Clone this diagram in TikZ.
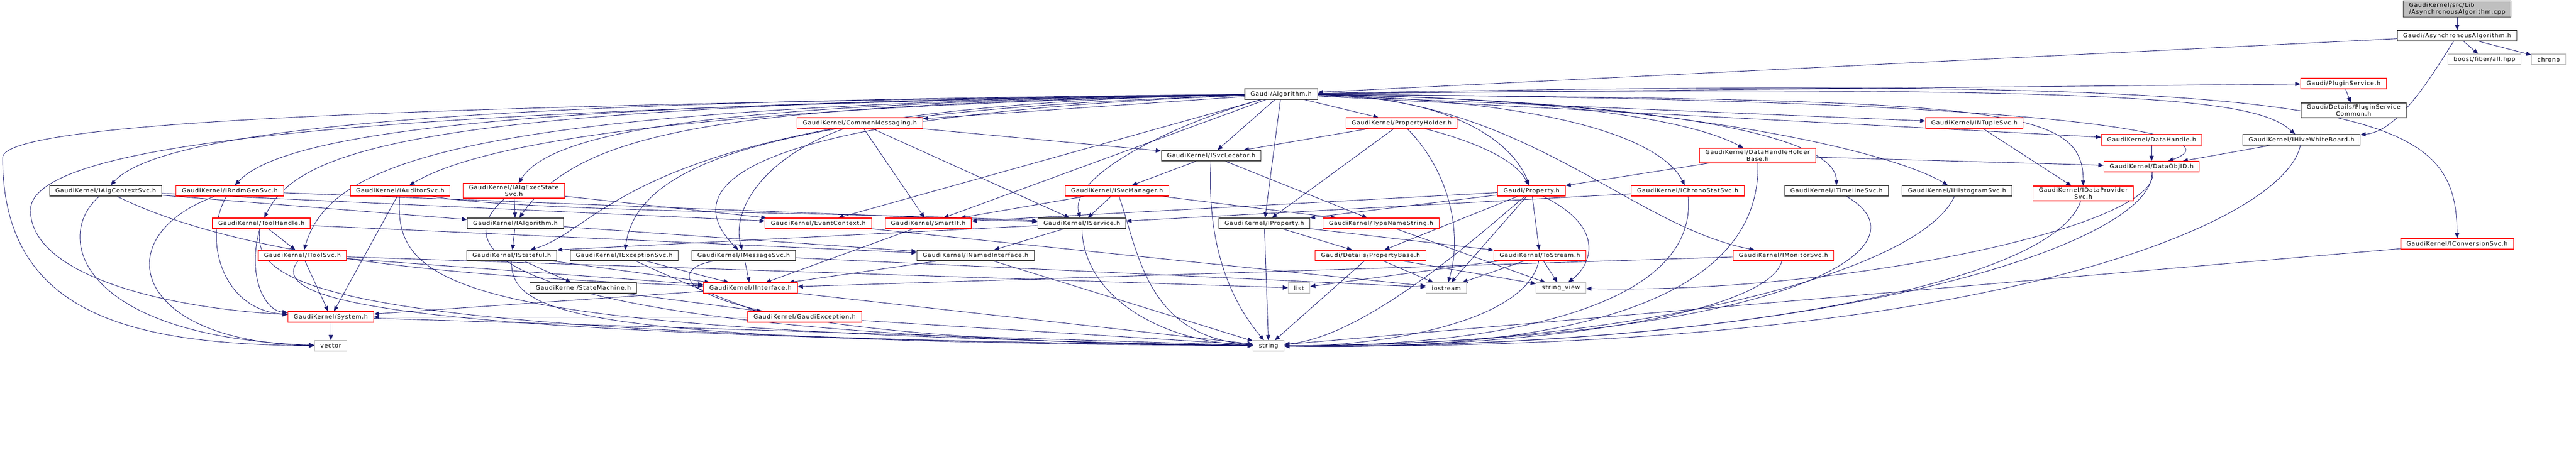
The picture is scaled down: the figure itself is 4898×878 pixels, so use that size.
\documentclass[tikz,border=0pt]{standalone}
\usepackage{fontspec}
\setmainfont{DejaVu Sans}[LetterSpace=9]
\usetikzlibrary{arrows.meta,backgrounds}
\definecolor{edgeblue}{HTML}{191970}
\definecolor{boxred}{HTML}{FF0000}
\definecolor{boxgray}{HTML}{BFBFBF}
\definecolor{boxdark}{HTML}{404040}
\tikzset{
  hdr/.style={draw, fill=white, line width=1.1pt, minimum height=20pt,
    inner xsep=11pt, inner ysep=3.5pt, align=center,
    font=\fontsize{11}{12.5}\selectfont},
  redhdr/.style={hdr, draw=boxred},
  blkhdr/.style={hdr, draw=boxdark},
  syshdr/.style={hdr, draw=boxgray},
  roothdr/.style={hdr, draw=boxdark, fill=boxgray, align=left},
  dep/.style={draw=edgeblue, line width=0.9pt, -{Triangle[length=10pt,width=8pt]}}
}
\begin{document}
\begin{tikzpicture}[x=1pt,y=-1pt]
  \useasboundingbox (0,0) rectangle (4898,878);

  % top of the graph
  \node[roothdr] (cpp) at (4672,17) {GaudiKernel/src/Lib\\/AsynchronousAlgorithm.cpp};
  \node[blkhdr] (asyncalg) at (4672,68) {Gaudi/AsynchronousAlgorithm.h};
  \node[syshdr] (fiber) at (4724,113) {boost/fiber/all.hpp};
  \node[syshdr] (chrono) at (4846,113) {chrono};
  \node[blkhdr] (alg) at (2436,179) {Gaudi/Algorithm.h};
  \node[redhdr] (plugin) at (4456,159) {Gaudi/PluginService.h};
  \node[blkhdr] (plugincommon) at (4475,210) {Gaudi/Details/PluginService\\Common.h};
  \node[redhdr] (commonmsg) at (1635,234) {GaudiKernel/CommonMessaging.h};
  \node[redhdr] (propholder) at (2665,234) {GaudiKernel/PropertyHolder.h};
  \node[redhdr] (ntuple) at (3754,234) {GaudiKernel/INTupleSvc.h};
  \node[blkhdr] (svcloc) at (2303,296) {GaudiKernel/ISvcLocator.h};
  \node[redhdr] (dhhbase) at (3342,296) {GaudiKernel/DataHandleHolder\\Base.h};
  \node[redhdr] (dhandle) at (4091,266) {GaudiKernel/DataHandle.h};
  \node[redhdr] (objid) at (4091,317) {GaudiKernel/DataObjID.h};
  \node[blkhdr] (hivewb) at (4376,266) {GaudiKernel/IHiveWhiteBoard.h};

  \node[blkhdr] (algctx) at (201,363) {GaudiKernel/IAlgContextSvc.h};
  \node[redhdr] (rndm) at (437,363) {GaudiKernel/IRndmGenSvc.h};
  \node[redhdr] (auditor) at (761,363) {GaudiKernel/IAuditorSvc.h};
  \node[redhdr] (execstate) at (977,363) {GaudiKernel/IAlgExecState\\Svc.h};
  \node[redhdr] (svcmgr) at (2124,363) {GaudiKernel/ISvcManager.h};
  \node[redhdr] (prop) at (2912,363) {Gaudi/Property.h};
  \node[redhdr] (chronostat) at (3209,363) {GaudiKernel/IChronoStatSvc.h};
  \node[blkhdr] (timeline) at (3492,363) {GaudiKernel/ITimelineSvc.h};
  \node[blkhdr] (histo) at (3721,363) {GaudiKernel/IHistogramSvc.h};
  \node[redhdr] (dataprov) at (3961,368) {GaudiKernel/IDataProvider\\Svc.h};

  \node[redhdr] (toolhandle) at (497,425) {GaudiKernel/ToolHandle.h};
  \node[blkhdr] (ialg) at (980,425) {GaudiKernel/IAlgorithm.h};
  \node[redhdr] (evtctx) at (1556,425) {GaudiKernel/EventContext.h};
  \node[redhdr] (smartif) at (1765,425) {GaudiKernel/SmartIF.h};
  \node[blkhdr] (iservice) at (2057,425) {GaudiKernel/IService.h};
  \node[blkhdr] (iprop) at (2404,425) {GaudiKernel/IProperty.h};
  \node[redhdr] (typename) at (2626,425) {GaudiKernel/TypeNameString.h};

  \node[redhdr] (toolsvc) at (575,486) {GaudiKernel/IToolSvc.h};
  \node[blkhdr] (stateful) at (973,486) {GaudiKernel/IStateful.h};
  \node[blkhdr] (excsvc) at (1187,486) {GaudiKernel/IExceptionSvc.h};
  \node[blkhdr] (msgsvc) at (1414,486) {GaudiKernel/IMessageSvc.h};
  \node[blkhdr] (named) at (1855,486) {GaudiKernel/INamedInterface.h};
  \node[redhdr] (propbase) at (2606,486) {Gaudi/Details/PropertyBase.h};
  \node[redhdr] (tostream) at (2928,486) {GaudiKernel/ToStream.h};
  \node[redhdr] (monitor) at (3391,486) {GaudiKernel/IMonitorSvc.h};
  \node[redhdr] (convsvc) at (4672,464) {GaudiKernel/IConversionSvc.h};

  \node[blkhdr] (statemach) at (1109,548) {GaudiKernel/StateMachine.h};
  \node[redhdr] (iface) at (1427,548) {GaudiKernel/IInterface.h};
  \node[syshdr] (list) at (2470,548) {list};
  \node[syshdr] (iostream) at (2750,548) {iostream};
  \node[syshdr] (strview) at (2968,548) {string\_view};
  \node[redhdr] (system) at (629,603) {GaudiKernel/System.h};
  \node[redhdr] (gexc) at (1530,603) {GaudiKernel/GaudiException.h};
  \node[syshdr] (vector) at (629,658) {vector};
  \node[syshdr] (string) at (2412,658) {string};

  \coordinate (lpsys) at (58,400);
  \coordinate (lpvec) at (5,300);

  \begin{pgfonlayer}{background}
  \foreach \a/\b in {cpp/asyncalg, asyncalg/fiber, asyncalg/chrono, asyncalg/alg,
    plugin/plugincommon, dhandle/objid, hivewb/objid,
    alg/svcloc, alg/iprop, alg/propholder, alg/commonmsg, alg/ntuple, alg/plugin,
    alg/dhandle, alg/evtctx, alg/smartif,
    algctx/ialg, algctx/evtctx, rndm/iservice,
    toolhandle/toolsvc, toolhandle/named,
    toolsvc/system, toolsvc/iface, toolsvc/list, auditor/system,
    execstate/ialg, execstate/evtctx, ialg/stateful, ialg/named,
    stateful/statemach, stateful/iface, statemach/gexc,
    excsvc/iface, msgsvc/iface, msgsvc/iostream,
    commonmsg/smartif, commonmsg/svcloc, commonmsg/iservice,
    evtctx/iostream, smartif/iface, named/iface, named/string,
    iface/system, iface/string, gexc/system, gexc/string, system/vector, system/string,
    svcloc/svcmgr, svcloc/typename, svcmgr/iservice, svcmgr/smartif, svcmgr/typename,
    iservice/named, iservice/stateful.north east,
    iprop/propbase, iprop/string, iprop/tostream,
    propholder/iprop, propholder/svcloc,
    typename/strview, propbase/iostream, propbase/string, propbase/strview,
    prop/propbase, prop/iprop, prop/tostream, prop/iostream, prop/smartif,
    tostream/iostream, tostream/list, tostream/strview,
    chronostat/iservice, dhhbase/prop, dhhbase/objid,
    monitor/iface, ntuple/dataprov, convsvc/string}
    \draw[dep] (\a) -- (\b);

  \foreach \a/\b/\p/\q/\r/\s in {asyncalg/hivewb/4620/150/4560/250,
    alg/algctx/1200/190/330/220, alg/rndm/1200/195/560/230,
    alg/toolhandle/800/195/570/280, alg/toolsvc/900/200/630/300,
    alg/auditor/1500/200/950/250, alg/execstate/1500/195/1060/230,
    alg/ialg/1400/200/1110/240, alg/stateful/1200/200/1160/430,
    alg/excsvc/1500/210/1213/300, alg/msgsvc/1500/215/1260/330,
    alg/iservice/2250/230/2030/330,
    alg/prop/2780/185/2880/280, alg/chronostat/2900/190/3150/250,
    alg/dhhbase/2900/185/3200/220, alg/timeline/3100/190/3490/250,
    alg/histo/3200/190/3600/290, alg/monitor/2900/185/3100/430,
    alg/dataprov/3800/190/3961/200, alg/objid/4100/190/4230/270,
    alg/hivewb/4100/160/4290/190, alg/convsvc/4500/140/4670/200,
    algctx/iface/500/510/1000/530, algctx/vector/100/450/150/640,
    rndm/system/385/450/420/590, rndm/vector/200/450/250/650,
    toolhandle/system/470/520/500/590, toolhandle/string/470/560/700/640,
    toolsvc/string/500/580/800/640, auditor/string/745/560/900/630,
    auditor/iservice/1000/405/1700/405,
    execstate/string/840/480/950/640, stateful/string/970/600/1100/650,
    excsvc/gexc/1300/540/1430/590, msgsvc/string/1230/520/1300/650,
    commonmsg/msgsvc/1450/300/1390/400,
    svcloc/string/2295/450/2330/560, svcmgr/string/2165/480/2180/640,
    iservice/string/2060/560/2200/650,
    propholder/prop/2790/265/2880/300, propholder/iostream/2760/330/2780/450,
    prop/strview/3050/430/3030/500, prop/string/2820/440/2600/640,
    tostream/string/2900/620/2600/660, chronostat/string/3230/600/2800/660,
    dhhbase/string/3350/600/2900/668, timeline/string/3680/470/3400/650,
    histo/string/3650/520/3100/660, monitor/string/3360/600/2900/665,
    dataprov/string/3900/550/3200/665, objid/string/4100/460/3500/665,
    objid/strview/4110/430/3500/560, hivewb/string/4345/420/3800/670}
    \draw[dep] (\a) .. controls (\p,\q) and (\r,\s) .. (\b);

  \draw[dep] (alg) .. controls (800,205) and (58,260) .. (lpsys)
    .. controls (58,520) and (300,585) .. (system);
  \draw[dep] (alg) .. controls (800,200) and (5,230) .. (lpvec)
    .. controls (5,600) and (250,655) .. (vector);
  \end{pgfonlayer}
\end{tikzpicture}
\end{document}
